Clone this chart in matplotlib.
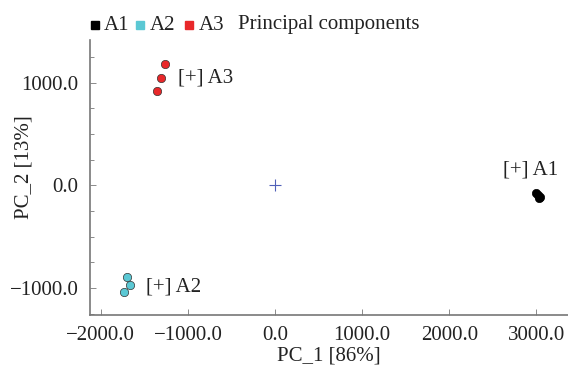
import matplotlib
matplotlib.use("Agg")
import matplotlib.pyplot as plt
from matplotlib.ticker import MultipleLocator, FuncFormatter
from matplotlib.patches import Rectangle

plt.rcParams['font.family'] = ['Liberation Serif', 'DejaVu Serif']

groups = ["A1", "A2", "A3"]
colors = ["#000000", "#5bc8d4", "#e8282a"]
a1_x = [2990, 3020, 3045, 3030]
a1_y = [-70, -95, -110, -120]
a2_x = [-1700, -1665, -1735]
a2_y = [-895, -965, -1040]
a3_x = [-1265, -1310, -1355]
a3_y = [1180, 1045, 920]
label_text = ["[+] A1", "[+] A2", "[+] A3"]
label_pos = [(2620, 152), (-1483, -993), (-1115, 1045)]
center = (0, 0)
legend_title = "Principal components"

W, H = 568, 372
FS = 15
fig = plt.figure(figsize=(W / 100, H / 100), dpi=100)
ax = fig.add_axes([0.1576, 0.153, 0.842, 0.7395])

xs = [a1_x, a2_x, a3_x]
ys = [a1_y, a2_y, a3_y]
for x, y, c in zip(xs, ys, colors):
    ax.scatter(x, y, s=36, color=c, edgecolors="#333333" if c != "#000000" else "#000000",
               linewidths=0.5, zorder=3)
for t, (px, py) in zip(label_text, label_pos):
    ax.text(px, py, t, fontsize=FS, color="#222222", va="center", ha="left")
ax.plot([center[0]], [center[1]], marker="+", color="#5060b8", markersize=8, mew=0.8)

def fmt(v, pos):
    s = "%.1f" % abs(v)
    return ("\u2212" + s) if v < 0 else s

ax.set_xlim(-2130, 3360)
ax.set_ylim(-1262, 1415)
ax.xaxis.set_major_locator(MultipleLocator(1000))
ax.yaxis.set_major_locator(MultipleLocator(1000))
ax.yaxis.set_minor_locator(MultipleLocator(250))
ax.xaxis.set_major_formatter(FuncFormatter(fmt))
ax.yaxis.set_major_formatter(FuncFormatter(fmt))
ax.tick_params(direction="in", length=4, width=0.6, color="#777777", labelsize=FS,
               labelcolor="#222222", pad=8)
ax.tick_params(which="minor", direction="in", length=3, width=0.6, color="#777777")
for s in ["top", "right"]:
    ax.spines[s].set_visible(False)
for s in ["left", "bottom"]:
    ax.spines[s].set_color("#777777")
    ax.spines[s].set_linewidth(1.2)
ax.set_xlabel("PC_1 [86%]", fontsize=FS, color="#222222", labelpad=1)
ax.set_ylabel("PC_2 [13%]", fontsize=FS, color="#222222")
ax.yaxis.set_label_coords(-0.118, 0.538)

# legend row at top (figure pixel positions)
sq_x = [95, 140, 189]
txt_x = [104, 150, 199]
ty = 25
sq = 8
for c, g, sx, tx in zip(colors, groups, sq_x, txt_x):
    fig.patches.append(Rectangle(((sx - sq / 2) / W, 1 - (25 + sq / 2) / H), sq / W, sq / H,
                                 transform=fig.transFigure, color=c, figure=fig))
    fig.text(tx / W, 1 - ty / H, g, fontsize=FS, color="#222222", va="center", ha="left")
fig.text(238 / W, 1 - ty / H, legend_title, fontsize=FS, color="#222222", va="center", ha="left")

fig.savefig("out.png", dpi=100)
